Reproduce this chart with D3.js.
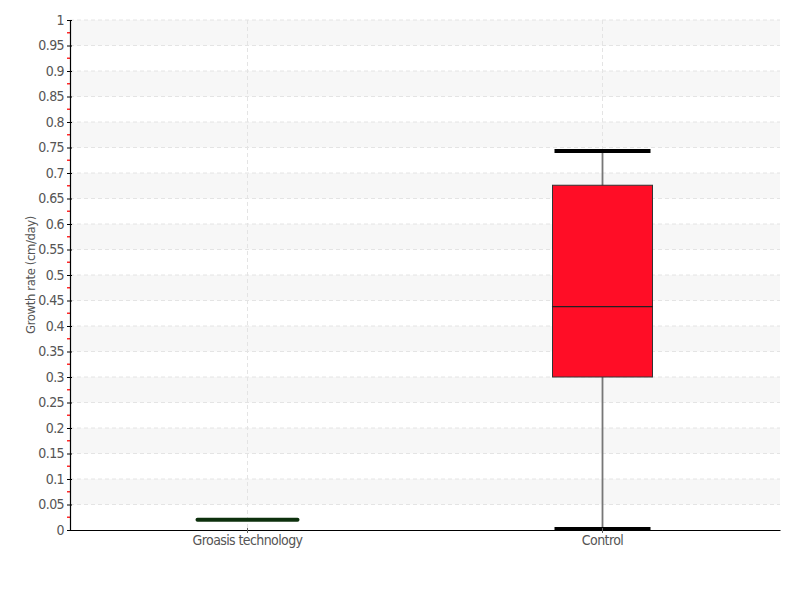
<!DOCTYPE html>
<html><head><meta charset="utf-8">
<script src="https://cdn.jsdelivr.net/npm/d3@7"></script>
<style>
body{margin:0;background:#fff;}
text{font-family:"DejaVu Sans Condensed","DejaVu Sans",sans-serif;font-stretch:condensed;}
</style></head><body>
<svg id="c" width="800" height="600"></svg>
<script>
const categories = ["Groasis technology", "Control"];
const lowWhisker = [0.02, 0.002];
const q1 = [0.02, 0.30];
const median = [0.02, 0.438];
const q3 = [0.02, 0.676];
const highWhisker = [0.02, 0.743];
const boxColors = ["#0d300d", "#ff0d26"];
const yTicks = d3.range(0, 1.0001, 0.05).map(v => +v.toFixed(2));
const yLabel = "Growth rate (cm/day)";

const svg = d3.select("#c");
const m = {l:70, r:20, t:20, b:70};
const W = 800, H = 600;
const x = d3.scaleBand().domain(categories).range([m.l, W - m.r]);
const y = d3.scaleLinear().domain([0, 1]).range([H - m.b, m.t]);

// alternating bands
const bands = yTicks.filter((d,i) => i % 2 === 1).map(v => [v, +(v+0.05).toFixed(2)]);
svg.append("g").selectAll("rect").data(bands).join("rect")
  .attr("x", m.l).attr("width", W - m.r - m.l)
  .attr("y", d => y(d[1])).attr("height", d => y(d[0]) - y(d[1]))
  .attr("fill", "#f7f7f7");

// grid
svg.append("g").selectAll("line").data(yTicks.filter(d => d > 0)).join("line")
  .attr("x1", m.l).attr("x2", W - m.r)
  .attr("y1", d => y(d)).attr("y2", d => y(d))
  .attr("stroke", "#e4e4e4").attr("stroke-dasharray", "4,3");
svg.append("g").selectAll("line").data(categories).join("line")
  .attr("x1", d => x(d) + x.bandwidth()/2).attr("x2", d => x(d) + x.bandwidth()/2)
  .attr("y1", m.t).attr("y2", H - m.b)
  .attr("stroke", "#e4e4e4").attr("stroke-dasharray", "4,3");

// minor red ticks
const minor = yTicks.slice(0, -1).map(v => v + 0.025);
svg.append("g").selectAll("line").data(minor).join("line")
  .attr("x1", m.l - 3).attr("x2", m.l)
  .attr("y1", d => y(d)).attr("y2", d => y(d))
  .attr("stroke", "#ff2a2a").attr("stroke-width", 1.5);

// boxes
const data = categories.map((c,i) => ({c, lo:lowWhisker[i], q1:q1[i], med:median[i], q3:q3[i], hi:highWhisker[i], col:boxColors[i]}));
const bw = 100, cw = 96;
const g = svg.append("g").selectAll("g").data(data).join("g")
  .attr("transform", d => `translate(${x(d.c) + x.bandwidth()/2},0)`);
g.append("line").attr("y1", d => y(d.lo)).attr("y2", d => y(d.hi))
  .attr("stroke", "#777").attr("stroke-width", 1.8);
g.append("rect").attr("x", -bw/2).attr("width", bw)
  .attr("y", d => y(d.q3)).attr("height", d => Math.max(0, y(d.q1) - y(d.q3)))
  .attr("fill", d => d.col).attr("stroke", "#333").attr("stroke-width", 1);
g.append("line").attr("x1", -bw/2).attr("x2", bw/2)
  .attr("y1", d => y(d.med)).attr("y2", d => y(d.med))
  .attr("stroke", d => d.q3 === d.q1 ? d.col : "#222")
  .attr("stroke-width", d => d.q3 === d.q1 ? 4 : 1.2)
  .attr("stroke-linecap", "round");
g.filter(d => d.q3 !== d.q1).selectAll(".cap").data(d => [d.lo, d.hi]).join("line")
  .attr("x1", -cw/2).attr("x2", cw/2)
  .attr("y1", v => y(v)).attr("y2", v => y(v))
  .attr("stroke", "#000").attr("stroke-width", 4);

// axes
const ya = svg.append("g").attr("transform", `translate(${m.l},0)`)
  .call(d3.axisLeft(y).tickValues(yTicks).tickFormat(d => d3.format("")(+d.toFixed(2))).tickSize(3).tickPadding(3));
ya.select(".domain").attr("stroke", "#000").attr("stroke-width", 1.2);
ya.selectAll(".tick line").attr("stroke", "#000").attr("x2", 2).attr("x1", -3);
ya.selectAll("text").attr("fill", "#555").attr("font-size", 14).attr("letter-spacing", "-0.6");

const xa = svg.append("g").attr("transform", `translate(0,${H - m.b})`)
  .call(d3.axisBottom(x).tickSize(3).tickSizeOuter(0).tickPadding(2));
xa.select(".domain").attr("stroke", "#000").attr("stroke-width", 1.2);
xa.selectAll(".tick line").attr("stroke", "#666").attr("y1", -2).attr("y2", 3);
xa.selectAll("text").attr("fill", "#555").attr("font-size", 14).attr("letter-spacing", "-0.6");

svg.append("text").attr("transform", `translate(35,${(m.t + H - m.b)/2}) rotate(-90)`)
  .attr("text-anchor", "middle").attr("fill", "#555").attr("font-size", 13).attr("letter-spacing", "-0.4").text(yLabel);
</script></body></html>
